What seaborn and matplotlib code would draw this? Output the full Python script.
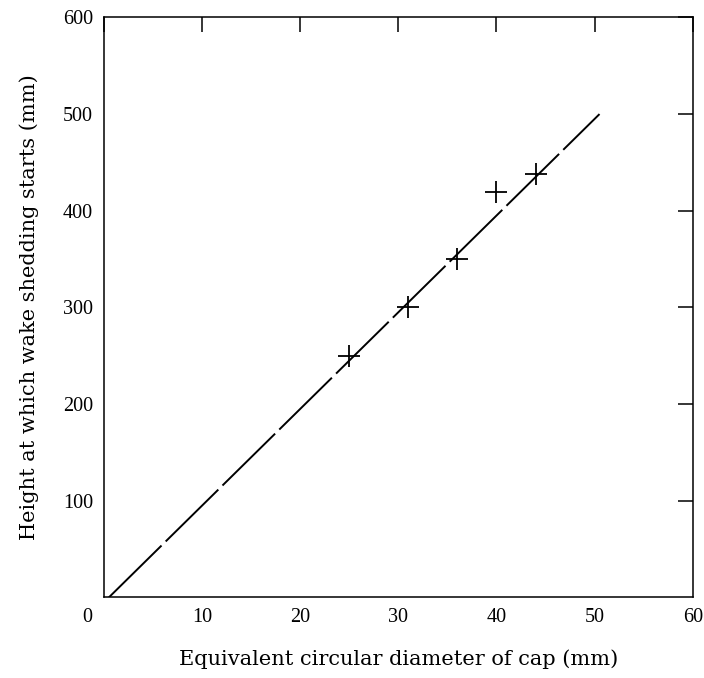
import matplotlib
matplotlib.use("Agg")
import matplotlib.pyplot as plt
import matplotlib.transforms as mtransforms
import numpy as np
import pandas as pd
import seaborn as sns

# measured points (diameter mm, height mm)
diam = [25, 31, 36, 40, 44]
height = [250, 300, 350, 419, 438]

# fitted line end points
line_x = [0.5, 50.5]
line_y = [0, 500]

x_ticks = [0, 10, 20, 30, 40, 50, 60]
y_ticks = [100, 200, 300, 400, 500, 600]

sns.set_theme(style="white")
plt.rcParams["font.family"] = ["Liberation Serif", "DejaVu Serif"]

fig = plt.figure(figsize=(7.04, 6.78), dpi=100)
ax = fig.add_axes([0.1477, 0.1189, 0.984 - 0.1477, 0.9743 - 0.1189])

pts = pd.DataFrame({"d": diam, "h": height})
fit = pd.DataFrame({"d": line_x, "h": line_y})

sns.lineplot(data=fit, x="d", y="h", ax=ax, color="black", linewidth=1.4,
             linestyle=(0, (38, 3)))
sns.scatterplot(data=pts, x="d", y="h", ax=ax, marker="+", s=230,
                color="black", linewidth=1.3, zorder=3)

ax.set_xlim(0, 60)
ax.set_ylim(0, 600)
ax.set_xticks(x_ticks)
ax.set_yticks(y_ticks)
ax.set_xticklabels([str(v) for v in x_ticks])
ax.set_yticklabels([str(v) for v in y_ticks])

ax.tick_params(direction="in", length=11, width=1.1, top=True, right=True,
               labelsize=14.5, colors="black", pad=8)
for s in ax.spines.values():
    s.set_visible(True)
    s.set_color("black")
    s.set_linewidth(1.1)

# shift the "0" label left of the corner
lab0 = ax.get_xticklabels()[0]
lab0.set_transform(lab0.get_transform() +
                   mtransforms.ScaledTranslation(-17 / 100, 0, fig.dpi_scale_trans))

ax.set_xlabel("Equivalent circular diameter of cap (mm)", fontsize=15,
              family="DejaVu Serif", color="black", labelpad=16)
ax.set_ylabel("Height at which wake shedding starts (mm)", fontsize=15,
              family="DejaVu Serif", color="black", labelpad=17)
ax.grid(False)

fig.savefig("out.png", dpi=100)
